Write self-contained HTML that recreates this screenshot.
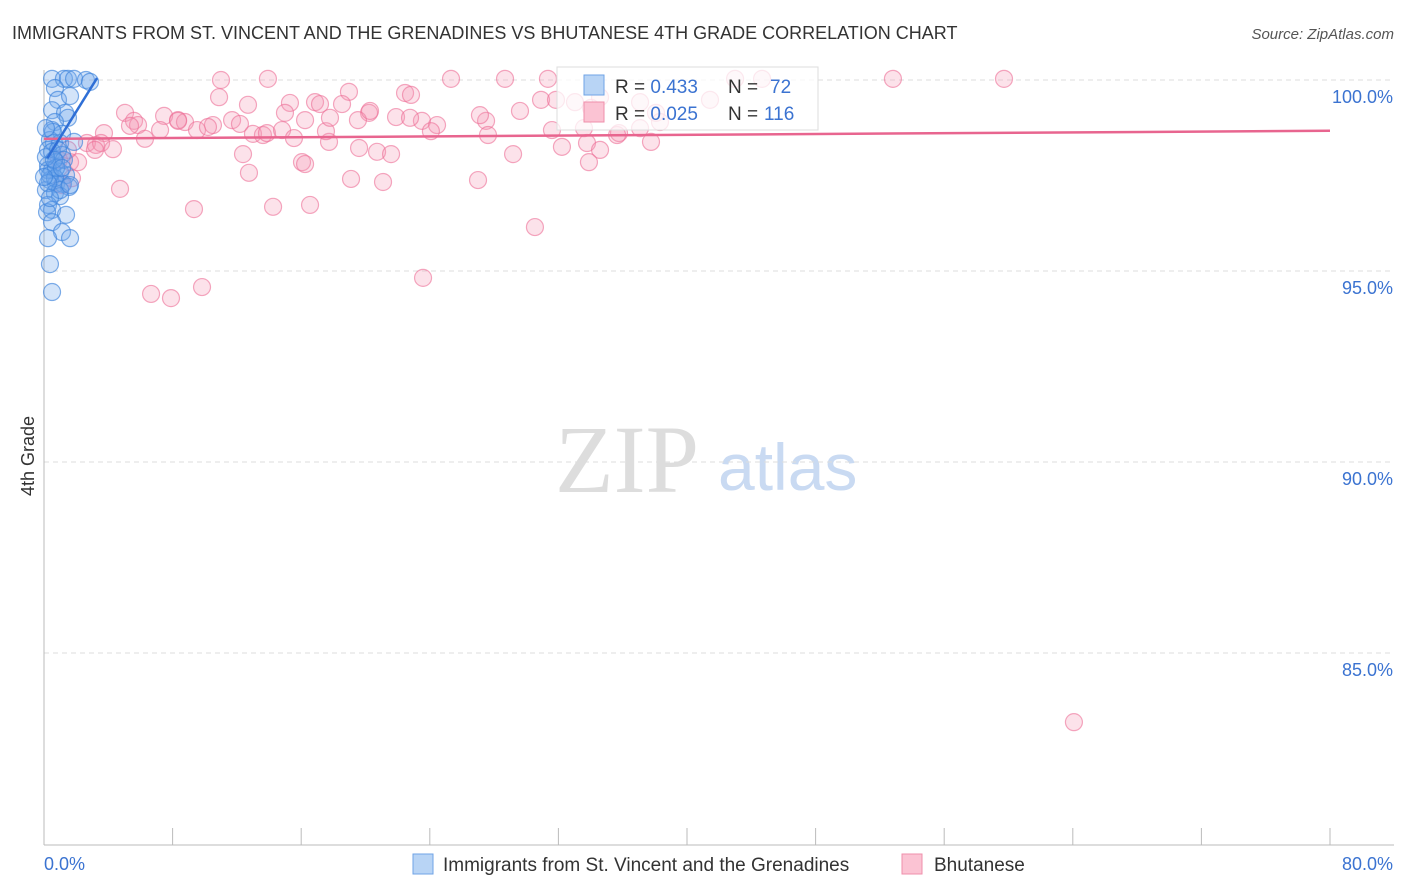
<!DOCTYPE html>
<html><head><meta charset="utf-8"><style>
body{margin:0;background:#fff;font-family:"Liberation Sans",sans-serif;}
#wrap{position:relative;width:1406px;height:892px;overflow:hidden}
</style></head><body>
<div id="wrap">
<svg id="svg" width="1406" height="892" xmlns="http://www.w3.org/2000/svg">
<text x="12" y="39" font-size="18" fill="#333">IMMIGRANTS FROM ST. VINCENT AND THE GRENADINES VS BHUTANESE 4TH GRADE CORRELATION CHART</text>
<text x="1394" y="39" font-size="15" fill="#555" font-style="italic" text-anchor="end">Source: ZipAtlas.com</text>
<text x="34" y="456" font-size="18" fill="#333" text-anchor="middle" transform="rotate(-90 34 456)">4th Grade</text>
<text x="555" y="492" font-size="96" fill="#ddd" font-family="Liberation Serif">ZIP</text>
<text x="718" y="490" font-size="66" fill="#c9daf2">atlas</text>
<g id="grid"></g><g id="axes"></g><g id="pts"></g><g id="trend"></g>
<g>
<rect x="557" y="67" width="261" height="63" fill="rgba(255,255,255,0.75)" stroke="#ddd"/>
<rect x="584" y="75" width="20" height="20" fill="#b8d4f5" stroke="#6fa3e6"/>
<rect x="584" y="102" width="20" height="20" fill="#fbc3d3" stroke="#ef8fab"/>
<text x="615" y="93" font-size="19" fill="#333">R = <tspan fill="#3b73d1">0.433</tspan><tspan x="728">N = </tspan><tspan x="770" fill="#3b73d1">72</tspan></text>
<text x="615" y="120" font-size="19" fill="#333">R = <tspan fill="#3b73d1">0.025</tspan><tspan x="728">N = </tspan><tspan x="764" fill="#3b73d1">116</tspan></text>
</g>
<g>
<rect x="413" y="854" width="20" height="20" fill="#b8d4f5" stroke="#6fa3e6"/>
<text x="443" y="871" font-size="19" fill="#333">Immigrants from St. Vincent and the Grenadines</text>
<rect x="902" y="854" width="20" height="20" fill="#fbc3d3" stroke="#ef8fab"/>
<text x="934" y="871" font-size="19" fill="#333">Bhutanese</text>
</g>
</svg>
</div>
<script>
const yTicks=[100,95,90,85];
const xTickLabels=["0.0%","80.0%"];
const pinkPx=[[221,80],[268,79],[451,79],[505,79],[548,79],[893,79],[1004,79],[735,79],[762,79],[219,97],[349,92],[405,93],[411,95],[248,105],[290,103],[315,102],[320,104],[342,104],[369,113],[125,113],[164,116],[178,120],[185,122],[134,121],[138,125],[160,130],[130,126],[213,125],[232,120],[240,124],[253,134],[197,130],[208,127],[145,139],[104,133],[87,143],[96,145],[101,143],[113,149],[95,150],[263,135],[267,133],[282,130],[294,138],[329,142],[326,131],[358,120],[396,117],[422,121],[437,125],[431,131],[486,121],[480,115],[488,135],[520,111],[541,100],[556,100],[575,102],[591,108],[552,130],[584,128],[619,133],[651,142],[587,143],[600,150],[562,147],[243,154],[359,148],[377,152],[391,154],[513,154],[302,162],[305,164],[249,173],[351,179],[383,182],[478,180],[589,162],[120,189],[194,209],[273,207],[310,205],[535,227],[151,294],[171,298],[202,287],[423,278],[1074,722],[59,160],[70,162],[72,178],[62,185],[78,162],[68,150],[285,113],[305,120],[370,111],[410,118],[656,113],[660,122],[640,128],[617,135],[640,102],[600,97],[710,100],[330,118],[178,121]];
const bluePx=[[52,79],[64,79],[68,79],[74,79],[86,80],[90,82],[55,88],[58,100],[70,96],[52,110],[65,113],[68,118],[55,122],[52,130],[62,134],[50,140],[54,143],[60,143],[74,142],[48,150],[52,152],[62,155],[56,162],[48,165],[52,170],[60,172],[66,175],[50,180],[56,184],[63,184],[69,187],[46,190],[55,193],[60,196],[48,205],[52,210],[47,212],[66,215],[52,222],[62,232],[70,238],[48,238],[50,264],[52,292],[48,170],[50,175],[55,178],[58,150],[64,160],[53,132],[46,128],[56,168],[60,190],[48,183],[70,185],[46,157],[50,198],[54,160],[62,168],[44,177]];
// data values (x in %, y in %)
const pinkX=pinkPx.map(p=>+((p[0]-44)/16.075).toFixed(2)), pinkY=pinkPx.map(p=>+(100-(p[1]-80)/38.2).toFixed(2));
const blueX=bluePx.map(p=>+((p[0]-44)/16.075).toFixed(2)), blueY=bluePx.map(p=>+(100-(p[1]-80)/38.2).toFixed(2));
const pinkTrend=[[0,98.46],[80,98.67]];
const blueTrend=[[0.2,97.95],[3.3,100.05]];
const sx=v=>44+v*16.075, sy=v=>80+(100-v)*38.2;
const NS="http://www.w3.org/2000/svg";
function mk(tag,attrs,parent){const e=document.createElementNS(NS,tag);for(const k in attrs)e.setAttribute(k,attrs[k]);parent.appendChild(e);return e;}
const grid=document.getElementById('grid'),axes=document.getElementById('axes'),pts=document.getElementById('pts'),tr=document.getElementById('trend'),svg=document.getElementById('svg');
yTicks.forEach(t=>{
 const l=mk('line',{x1:44,x2:1394,y1:sy(t),y2:sy(t),stroke:'#ddd','stroke-dasharray':'5,4'},grid);
 
 
 const tx=mk('text',{x:1393,y:sy(t)+23,'font-size':18,fill:'#3b73d1','text-anchor':'end'},grid);
 tx.textContent=t.toFixed(1)+'%';
 
 
});
const ax=mk('line',{x1:44,x2:1394,y1:845,y2:845,stroke:'#bbb'},axes);


const ay=mk('line',{x1:44,x2:44,y1:70,y2:845,stroke:'#bbb'},axes);


for(let i=0;i<=10;i++){const t=mk('line',{x1:sx(i*8),x2:sx(i*8),y1:828,y2:845,stroke:'#bbb'},axes);
 
 }
[[0,xTickLabels[0],'start',44],[80,xTickLabels[1],'end',1393]].forEach(a=>{const t=mk('text',{x:a[3],y:870,'font-size':18,fill:'#3b73d1','text-anchor':a[2]},axes);t.textContent=a[1];
 
 });
pinkX.forEach((x,i)=>{const c=mk('circle',{cx:sx(x),cy:sy(pinkY[i]),r:8.5,fill:'rgba(246,150,180,0.28)',stroke:'rgba(236,110,150,0.6)','stroke-width':1.2},pts);
 
 });
blueX.forEach((x,i)=>{const c=mk('circle',{cx:sx(x),cy:sy(blueY[i]),r:8.5,fill:'rgba(110,165,235,0.3)',stroke:'rgba(60,130,220,0.65)','stroke-width':1.2},pts);
 
 });
const pl=mk('line',{x1:sx(pinkTrend[0][0]),y1:sy(pinkTrend[0][1]),x2:sx(pinkTrend[1][0]),y2:sy(pinkTrend[1][1]),stroke:'#e8658f','stroke-width':2.5},tr);


const bl=mk('line',{x1:sx(blueTrend[0][0]),y1:sy(blueTrend[0][1]),x2:sx(blueTrend[1][0]),y2:sy(blueTrend[1][1]),stroke:'#2f6fd6','stroke-width':2.5},tr);


</script>
</body></html>
